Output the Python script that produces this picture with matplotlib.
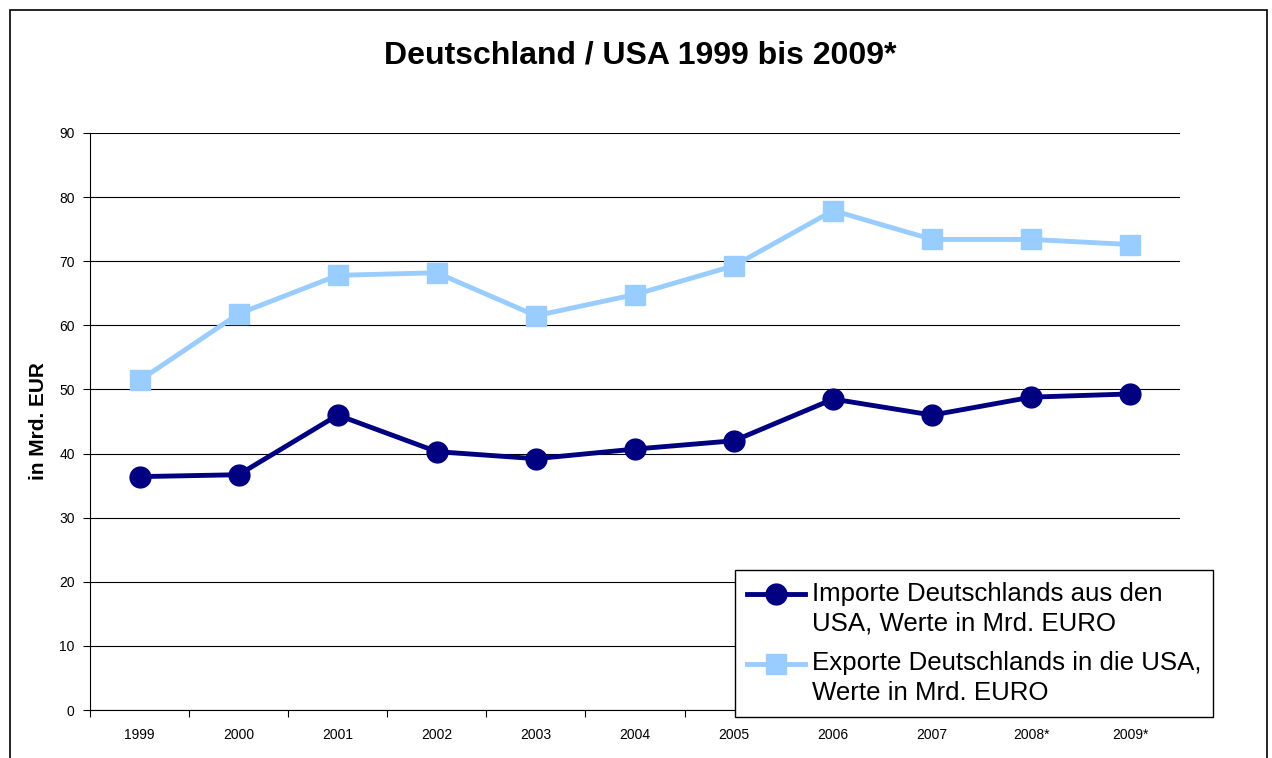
import matplotlib
matplotlib.use("Agg")
import matplotlib.pyplot as plt
from matplotlib.patches import Rectangle
from matplotlib.legend_handler import HandlerLine2D
import numpy as np

plt.rcParams['font.family'] = ['Liberation Sans', 'DejaVu Sans']

years = ["1999", "2000", "2001", "2002", "2003", "2004", "2005", "2006", "2007", "2008*", "2009*"]
imports = [36.4, 36.7, 46.0, 40.3, 39.2, 40.7, 42.0, 48.5, 46.0, 48.8, 49.3]
exports = [51.4, 61.8, 67.8, 68.2, 61.5, 64.8, 69.3, 77.9, 73.4, 73.4, 72.6]
label_imp = "Importe Deutschlands aus den\nUSA, Werte in Mrd. EURO"
label_exp = "Exporte Deutschlands in die USA,\nWerte in Mrd. EURO"
title = "Deutschland / USA 1999 bis 2009*"
ylabel = "in Mrd. EUR"


class ShiftedHandler(HandlerLine2D):
    """Legend handle aligned with the first text line instead of the middle."""
    def __init__(self, dy, **kw):
        super().__init__(**kw)
        self.dy = dy

    def create_artists(self, legend, orig_handle, xdescent, ydescent, width,
                       height, fontsize, trans):
        arts = super().create_artists(legend, orig_handle, xdescent, ydescent,
                                      width, height, fontsize, trans)
        for a in arts:
            a.set_ydata(np.asarray(a.get_ydata(), dtype=float) + self.dy)
        return arts


W, H = 1272, 758
fig = plt.figure(figsize=(W / 100, H / 100), dpi=100)
fig.patch.set_facecolor('white')

# outer chart border (bottom edge is cut off in the reference)
fig.patches.append(Rectangle((10 / W, -0.05), (1267 - 10) / W, 1 + 0.05 - 10 / H,
                             transform=fig.transFigure, fill=False,
                             edgecolor='black', linewidth=1.2))

left, right, top, bottom = 90, 1180, 133, 710
ax = fig.add_axes([left / W, 1 - bottom / H, (right - left) / W, (bottom - top) / H])

x = np.arange(len(years))
l1, = ax.plot(x, imports, color='#000080', linewidth=3.5, marker='o', markersize=15,
              label=label_imp, zorder=3)
l2, = ax.plot(x, exports, color='#99CCFF', linewidth=3.5, marker='s', markersize=14,
              label=label_exp, zorder=3)

ax.set_xlim(-0.5, len(years) - 0.5)
ax.set_ylim(0, 90)
ax.set_yticks(np.arange(0, 91, 10))
ax.yaxis.grid(True, color='black', linewidth=0.8)
ax.set_axisbelow(True)

ax.set_xticks(np.arange(-0.5, len(years), 1.0))
ax.set_xticklabels([])
ax.set_xticks(x, minor=True)
ax.set_xticklabels(years, minor=True)
ax.tick_params(axis='x', which='minor', length=0, labelsize=10, pad=13)
ax.tick_params(axis='x', which='major', length=5, color='black', width=0.8)
ax.tick_params(axis='y', length=5, labelsize=10, pad=6, width=0.8)

for s in ['top', 'right']:
    ax.spines[s].set_visible(False)
for s in ['left', 'bottom']:
    ax.spines[s].set_color('black')
    ax.spines[s].set_linewidth(0.8)

ax.set_ylabel(ylabel, fontsize=15, fontweight='bold', labelpad=8)

fig.text(640 / W, 1 - 55 / H, title, ha='center', va='center',
         fontsize=23, fontweight='bold')

leg = ax.legend(handles=[l1, l2], loc='upper left',
                bbox_to_anchor=(735 / W, 1 - 570 / H),
                bbox_transform=fig.transFigure, fontsize=18.6, frameon=True,
                fancybox=False, edgecolor='black', framealpha=1,
                handlelength=2.25, handletextpad=0.28, borderpad=0.45,
                labelspacing=0.62, borderaxespad=0,
                handler_map={l1: ShiftedHandler(10.5), l2: ShiftedHandler(10.5)})
leg.get_frame().set_linewidth(1.0)
for t in leg.get_texts():
    t.set_linespacing(1.3)

fig.savefig("out.png", dpi=100, facecolor='white')
